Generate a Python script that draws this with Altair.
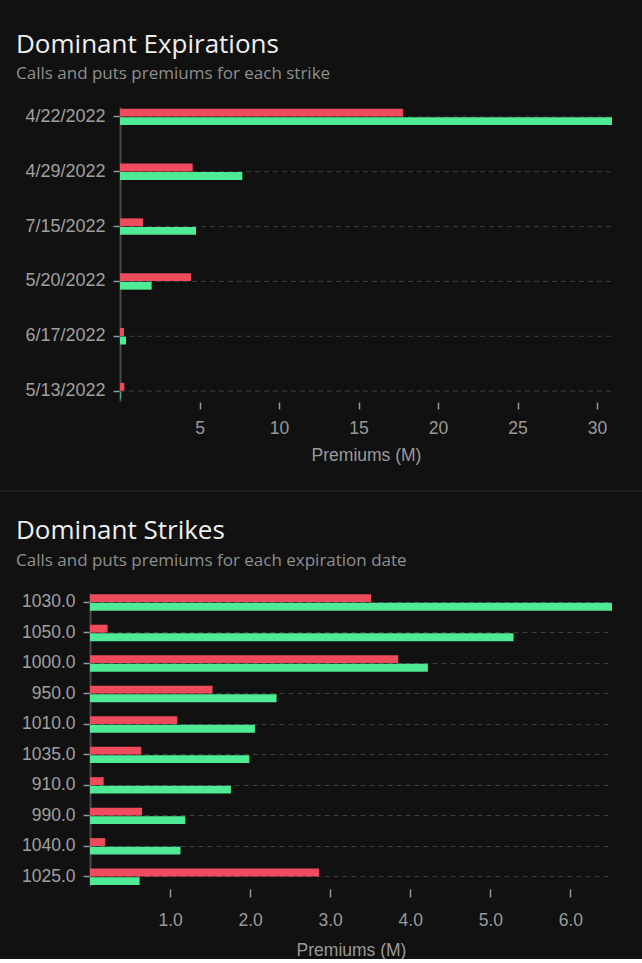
import altair as alt
import pandas as pd

# ---- data ----
exp_dates = ["4/22/2022", "4/29/2022", "7/15/2022", "5/20/2022", "6/17/2022", "5/13/2022"]
exp_puts = [17.8, 4.57, 1.45, 4.47, 0.25, 0.27]
exp_calls = [30.94, 7.69, 4.78, 1.99, 0.38, 0.04]

strikes = ["1030.0", "1050.0", "1000.0", "950.0", "1010.0", "1035.0", "910.0", "990.0", "1040.0", "1025.0"]
strike_puts = [3.51, 0.22, 3.85, 1.53, 1.09, 0.64, 0.17, 0.65, 0.19, 2.86]
strike_calls = [6.52, 5.29, 4.22, 2.33, 2.06, 1.99, 1.76, 1.19, 1.13, 0.62]

exp_ticks = [5, 10, 15, 20, 25, 30]
strike_ticks = [1, 2, 3, 4, 5, 6]

series_names = ["Puts", "Calls"]
series_colors = ["#EE4B5C", "#4FEA96"]

BG = "#111111"
PAGE_W = 642
ORIGIN = 90          # common left edge of both plot areas (page px)
PLOT_W = 522
GRID_COLOR = "#3e3e3e"


def long_df(cats, puts, calls):
    rows = []
    for c, p, k in zip(cats, puts, calls):
        rows.append({"cat": c, "type": "Puts", "value": p})
        rows.append({"cat": c, "type": "Calls", "value": k})
    return pd.DataFrame(rows)


def panel(cats, puts, calls, xvals, xfmt, title, subtitle, height, inset,
          pad_inner, pad_outer, ylab_size, x_off, tick_size, label_pad, title_pad,
          title_offset, separator=False):
    df = long_df(cats, puts, calls)
    xmax = max(max(puts), max(calls))
    y_axis = alt.Axis(
        title=None, bandPosition=0.5, grid=(inset == 0), gridDash=[5, 4],
        gridColor=GRID_COLOR, gridWidth=1, domainColor="#4a4a4a", domainWidth=2,
        tickColor="#8d9ba7", tickSize=7, tickWidth=1.5, offset=-inset,
        labelFont="Liberation Sans", labelFontSize=ylab_size,
        labelColor="#a0a0a0", labelPadding=8,
    )
    y_scale = alt.Scale(paddingInner=pad_inner, paddingOuter=pad_outer)
    bars = alt.Chart(df).mark_bar().encode(
        y=alt.Y("cat:N", sort=cats, scale=y_scale, axis=y_axis),
        yOffset=alt.YOffset("type:N", sort=series_names, scale=alt.Scale(paddingInner=0.08)),
        x=alt.X(
            "value:Q",
            scale=alt.Scale(domain=[0, xmax], nice=False, zero=True, range=[inset, PLOT_W]),
            axis=alt.Axis(
                values=xvals, format=xfmt, title="Premiums (M)", grid=False, domain=False,
                offset=x_off, tickColor="#8d9ba7", tickSize=tick_size, tickWidth=1.5,
                labelFont="Liberation Sans", labelFontSize=17.5, labelColor="#9a9a9a",
                labelPadding=label_pad, titleFont="Liberation Sans", titleFontSize=17.5,
                titleFontWeight="normal", titleColor="#9a9a9a", titlePadding=title_pad,
            ),
        ),
        color=alt.Color("type:N", scale=alt.Scale(domain=series_names, range=series_colors), legend=None),
    )
    layers = []
    if inset > 0:
        grid = alt.Chart(pd.DataFrame({"cat": cats})).mark_rule(
            color=GRID_COLOR, strokeDash=[5, 4], strokeWidth=1
        ).encode(
            y=alt.Y("cat:N", sort=cats, bandPosition=0.5, scale=y_scale, title=None),
            x=alt.value(inset), x2=alt.value(PLOT_W),
        )
        layers.append(grid)
    layers.append(bars)
    if separator:
        sep = alt.Chart(pd.DataFrame({"d": [0]})).mark_rect(color="#1d1d1d").encode(
            x=alt.value(-ORIGIN), x2=alt.value(PAGE_W - ORIGIN),
            y=alt.value(489 - 106), y2=alt.value(491 - 106),
        )
        layers.append(sep)
    return alt.layer(*layers).properties(
        width=PLOT_W, height=height,
        title=alt.TitleParams(
            text=title, subtitle=subtitle, anchor="start", frame="group", dx=16 - ORIGIN,
            offset=title_offset, font="Open Sans", fontSize=26, fontWeight="normal",
            color="#efefef", subtitleFont="Open Sans", subtitleFontSize=17,
            subtitleColor="#8f8f8f", subtitlePadding=8.5,
        ),
    )


top = panel(exp_dates, exp_puts, exp_calls, exp_ticks, "d",
            "Dominant Expirations", "Calls and puts premiums for each strike",
            height=294, inset=30, pad_inner=0.7, pad_outer=0.03,
            ylab_size=18, x_off=1, tick_size=7, label_pad=10, title_pad=9.5,
            title_offset=25, separator=True)

bottom = panel(strikes, strike_puts, strike_calls, strike_ticks, ".1f",
               "Dominant Strikes", "Calls and puts premiums for each expiration date",
               height=293, inset=0, pad_inner=0.47, pad_outer=0.04,
               ylab_size=17.5, x_off=3, tick_size=8, label_pad=14, title_pad=13,
               title_offset=24)

chart = alt.vconcat(top, bottom, spacing=26).properties(
    padding={"left": 0, "right": 0, "top": 31, "bottom": 0}, background=BG
).configure_view(stroke=None)

chart.save("out.html", embed_options={"renderer": "svg", "actions": False})
